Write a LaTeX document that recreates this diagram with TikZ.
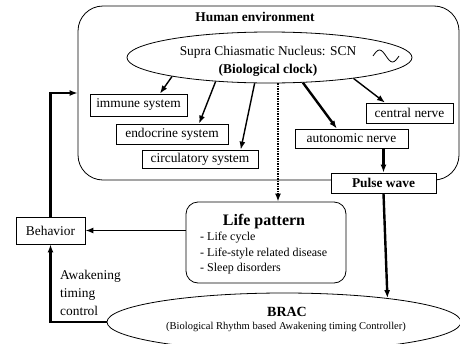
\documentclass[tikz,border=0pt]{standalone}
\usepackage{fontspec}
\setmainfont{Liberation Serif}
\usetikzlibrary{arrows.meta,shapes.geometric,positioning}
\newcommand\basefont{\fontsize{13.4}{16}\selectfont}
\tikzset{%
  >={Latex[length=8pt,width=6pt]},
  sysbox/.style={draw,line width=0.8pt,fill=white,inner sep=0pt,minimum height=20pt,font=\basefont},
  bigoval/.style={draw,line width=0.8pt,ellipse,inner sep=0pt},
  thinarrow/.style={->,line width=1.4pt},
  thickarrow/.style={->,line width=2.4pt},
  dotarrow/.style={->,line width=2.4pt,dash pattern=on 1.5pt off 1pt},
}

\begin{document}
\begin{tikzpicture}[x=1pt,y=-1pt,font=\basefont]
	\useasboundingbox (0,0) rectangle (460,343);
	
	%% human environment
	\node[draw,line width=0.8pt,rounded corners=25pt,minimum width=381pt,minimum height=174pt] (env) at (268.5,93) {};
	\node[font=\basefont\bfseries] (envtitle) at (255,17) {Human environment};
	
	\node[bigoval,minimum width=285pt,minimum height=51pt] (scn) at (269.5,57.5) {};
	\node[align=center,inner sep=0pt] (scntext) at (268,61) {Supra Chiasmatic Nucleus: SCN\\[2pt]\textbf{(Biological clock)}};
	\draw[line width=0.8pt] (373,56) sin (379.5,50) cos (386,56) sin (392.5,62) cos (399,56); % rhythm
	
	%% body systems
	\node[sysbox,minimum width=97pt,minimum height=22pt] (immune) at (138.5,105) {immune system};
	\node[sysbox,minimum width=112pt] (endocrine) at (172,134) {endocrine system};
	\node[sysbox,minimum width=116pt,minimum height=18pt] (circ) at (200,159) {circulatory system};
	\node[sysbox,minimum width=87pt] (central) at (409.5,113) {central nerve};
	\node[sysbox,minimum width=113pt,minimum height=19pt] (autonomic) at (351.5,138.5) {autonomic nerve};
	\node[sysbox,minimum width=105pt,font=\basefont\bfseries] (pulse) at (383.5,183) {Pulse wave};
	
	%% life pattern
	\node[draw,line width=0.8pt,rounded corners=12pt,minimum width=160pt,minimum height=81pt] (life) at (266,242.5) {};
	\node[font=\fontsize{16}{18}\selectfont\bfseries] (lifetitle) at (264,222) {Life pattern};
	\node[font=\fontsize{12}{15.5}\selectfont,align=left,anchor=west,inner sep=0pt] (lifeitems) at (200,253.5) {- Life cycle\\- Life-style related disease\\- Sleep disorders};
	
	\node[sysbox,minimum width=69pt,minimum height=27pt] (behavior) at (50.5,230.5) {Behavior};
	
	%% controller
	\node[bigoval,minimum width=354pt,minimum height=58pt] (brac) at (284,322) {};
	\node[font=\fontsize{14}{16}\selectfont\bfseries] (bractitle) at (287,312) {BRAC};
	\node[font=\fontsize{10.5}{12}\selectfont] (bracsub) at (286,327) {(Biological Rhythm based Awakening timing Controller)};
	\node[align=left,anchor=west,inner sep=0pt,font=\fontsize{13.4}{18}\selectfont] (wake) at (60,293) {Awakening\\timing\\control};
	
	%% connections
	\draw[thinarrow] (scn.191) -- (immune.28);
	\draw[thinarrow] (scn.204.8) -- (endocrine.21);
	\draw[thinarrow] (scn.240.3) -- (circ.13.3);
	\draw[dotarrow] ([xshift=8.5pt]scn.south) -- ([xshift=12pt]life.north);
	\draw[thickarrow] (scn.323.5) -- (autonomic.146.8);
	\draw[thinarrow] (scn.346) -- (central.157.8);
	\draw[thickarrow] (pulse.north |- autonomic.south) -- (pulse.north);
	\draw[thickarrow] (pulse.south) -- (brac.13.4);
	\draw[thinarrow] (life.west |- behavior.east) -- (behavior.east);
	\draw[thickarrow] (brac.west) -| (behavior.south);
	\draw[thickarrow] (behavior.north) |- (env.west);
\end{tikzpicture}
\end{document}
